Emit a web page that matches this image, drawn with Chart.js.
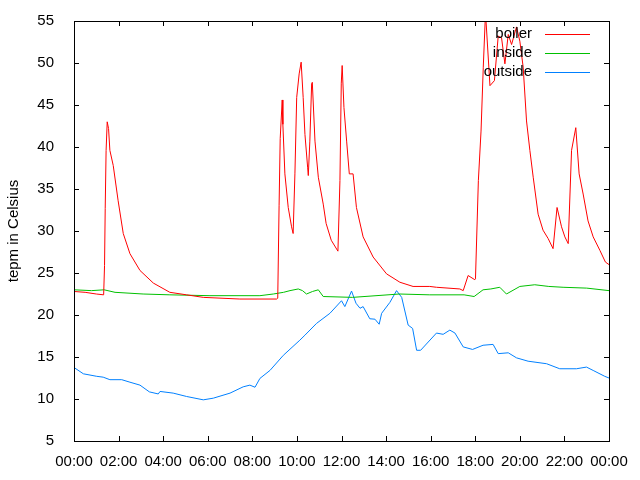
<!DOCTYPE html>
<html>
<head>
<meta charset="utf-8">
<script src="https://cdn.jsdelivr.net/npm/chart.js@4/dist/chart.umd.min.js"></script>
<style>
  html, body { margin: 0; padding: 0; background: #fff; }
  #wrap { width: 640px; height: 480px; }
</style>
</head>
<body>
<div id="wrap"><canvas id="chart" width="640" height="480"></canvas></div>
<script>
// Temperatures over one day (hours, deg C)
const boilerHours = [0, 0.5, 1.0, 1.33, 1.37, 1.40, 1.44, 1.49, 1.55, 1.61, 1.76, 1.98, 2.21, 2.51, 2.96, 3.56, 4.3, 5.05, 5.8, 7.44, 9.09,
  9.14, 9.2, 9.25, 9.34, 9.37, 9.46, 9.61, 9.76, 9.83, 9.91, 9.99, 10.10, 10.19, 10.28, 10.36, 10.48, 10.51, 10.58, 10.66, 10.69,
  10.81, 10.96, 11.18, 11.31, 11.54, 11.84, 11.93, 11.99, 12.03, 12.11, 12.23, 12.35, 12.52, 12.67, 12.97, 13.42, 14.02, 14.62,
  15.21, 15.96, 16.26, 17.31, 17.46, 17.68, 17.98, 18.01, 18.14, 18.26, 18.36, 18.46, 18.66, 18.86, 19.03, 19.18, 19.33, 19.48,
  19.63, 19.85, 20.0, 20.15, 20.3, 20.45, 20.6, 20.82, 21.04, 21.27, 21.49, 21.67, 21.87, 22.02, 22.17, 22.32, 22.51, 22.66,
  22.84, 23.06, 23.29, 23.59, 23.84, 24.0];
const boilerTemps = [22.8, 22.7, 22.5, 22.4, 25.9, 32.7, 39.6, 43.0, 42.2, 39.6, 37.8, 33.6, 29.7, 27.3, 25.3, 23.8, 22.7, 22.4, 22.1, 21.9, 21.9,
  22.0, 33.0, 41.0, 45.6, 42.7, 36.8, 32.8, 30.5, 29.7, 36.8, 45.9, 48.7, 50.1, 45.9, 41.5, 37.6, 36.6, 40.7, 47.5, 47.7,
  40.7, 36.4, 33.2, 30.9, 28.9, 27.6, 36.0, 47.6, 49.7, 44.7, 40.7, 36.8, 36.8, 32.8, 29.3, 26.9, 24.9, 23.9,
  23.4, 23.4, 23.3, 23.1, 22.9, 24.7, 24.2, 24.3, 36.0, 41.9, 49.5, 56.0, 47.3, 47.9, 53.2, 53.0, 49.9, 53.4,
  52.2, 54.3, 52.6, 49.5, 43.1, 39.6, 36.4, 32.0, 30.1, 29.1, 27.9, 32.8, 30.5, 29.3, 28.5, 39.6, 42.3, 36.8,
  34.4, 31.2, 29.3, 27.7, 26.3, 26.0];

const insideHours = [0, 0.79, 1.35, 1.84, 3.1, 4.3, 6.1, 8.34, 8.94, 9.4, 9.69, 10.06, 10.25, 10.43, 10.7, 10.96, 11.18, 12.5,
  14.6, 15.96, 17.5, 17.95, 18.35, 18.7, 19.1, 19.4, 20.0, 20.67, 21.3, 21.94, 23.0, 24.0];
const insideTemps = [23.0, 22.9, 23.0, 22.7, 22.5, 22.4, 22.3, 22.3, 22.5, 22.7, 22.9, 23.1, 22.9, 22.5, 22.8, 23.0, 22.2, 22.1,
  22.5, 22.4, 22.4, 22.2, 23.0, 23.1, 23.3, 22.5, 23.4, 23.6, 23.4, 23.3, 23.2, 22.9];

const outsideHours = [0, 0.42, 1.02, 1.31, 1.61, 2.14, 2.51, 2.96, 3.38, 3.78, 3.86, 4.45, 5.05, 5.8, 6.25, 7.0, 7.59, 7.89, 8.12,
  8.34, 8.79, 9.39, 10.13, 10.36, 10.88, 11.48, 12.0, 12.15, 12.45, 12.65, 12.83, 12.97, 13.27, 13.5, 13.69, 13.8, 14.17, 14.47,
  14.7, 14.99, 15.19, 15.37, 15.55, 16.26, 16.56, 16.86, 17.09, 17.46, 17.88, 18.35, 18.8, 19.03, 19.48, 19.85, 20.37, 21.2,
  21.79, 22.54, 22.99, 23.29, 23.81, 24.0];
const outsideTemps = [13.75, 13.0, 12.7, 12.6, 12.3, 12.3, 12.0, 11.65, 10.85, 10.6, 10.9, 10.7, 10.3, 9.9, 10.1, 10.7, 11.45, 11.65, 11.4,
  12.45, 13.4, 15.2, 17.0, 17.6, 19.0, 20.2, 21.7, 21.0, 22.85, 21.4, 20.8, 21.0, 19.55, 19.5, 18.9, 20.2, 21.5, 22.9,
  22.1, 18.8, 18.4, 15.8, 15.8, 17.85, 17.7, 18.2, 17.85, 16.2, 15.9, 16.4, 16.5, 15.4, 15.5, 14.9, 14.5, 14.2,
  13.6, 13.6, 13.8, 13.4, 12.7, 12.5];

const seriesNames = ['boiler', 'inside', 'outside'];
const seriesColors = ['#ff0000', '#00c000', '#0080ff'];

const FONT = 'Liberation Sans, Arial, sans-serif';

function toPoints(xs, ys) {
  return xs.map((x, i) => ({ x: x, y: ys[i] }));
}

// gnuplot style: box around plot, inward ticks on all four sides, legend at top right
const gnuplotFrame = {
  id: 'gnuplotFrame',
  afterDraw(chart) {
    const { ctx, chartArea: a, scales } = chart;
    ctx.save();
    ctx.strokeStyle = '#000';
    ctx.lineWidth = 1;
    ctx.strokeRect(Math.round(a.left) + 0.5, Math.round(a.top) + 0.5,
      Math.round(a.right - a.left), Math.round(a.bottom - a.top));
    const len = 5;
    ctx.beginPath();
    scales.x.ticks.forEach(t => {
      const px = Math.round(scales.x.getPixelForValue(t.value)) + 0.5;
      ctx.moveTo(px, a.bottom); ctx.lineTo(px, a.bottom - len);
      ctx.moveTo(px, a.top); ctx.lineTo(px, a.top + len);
    });
    scales.y.ticks.forEach(t => {
      const py = Math.round(scales.y.getPixelForValue(t.value)) + 0.5;
      ctx.moveTo(a.left, py); ctx.lineTo(a.left + len, py);
      ctx.moveTo(a.right, py); ctx.lineTo(a.right - len, py);
    });
    ctx.stroke();

    // legend
    ctx.font = '15px ' + FONT;
    ctx.textAlign = 'right';
    ctx.textBaseline = 'middle';
    chart.data.datasets.forEach((ds, i) => {
      const y = a.top + 13 + i * 19;
      ctx.fillStyle = '#000';
      ctx.fillText(ds.label, a.right - 77, y);
      ctx.strokeStyle = ds.borderColor;
      ctx.beginPath();
      ctx.moveTo(a.right - 64, Math.round(y) + 0.5);
      ctx.lineTo(a.right - 19, Math.round(y) + 0.5);
      ctx.stroke();
    });
    ctx.restore();
  }
};

new Chart(document.getElementById('chart'), {
  type: 'line',
  data: {
    datasets: [
      { label: seriesNames[0], data: toPoints(boilerHours, boilerTemps) },
      { label: seriesNames[1], data: toPoints(insideHours, insideTemps) },
      { label: seriesNames[2], data: toPoints(outsideHours, outsideTemps) }
    ].map((ds, i) => Object.assign(ds, {
      borderColor: seriesColors[i],
      backgroundColor: seriesColors[i],
      borderWidth: 1,
      pointRadius: 0,
      tension: 0,
      fill: false
    }))
  },
  options: {
    responsive: false,
    animation: false,
    layout: { padding: { top: 20, right: 31, left: 0, bottom: 0 } },
    plugins: {
      legend: { display: false },
      tooltip: { enabled: false }
    },
    scales: {
      x: {
        type: 'linear',
        min: 0,
        max: 24,
        grid: { display: false },
        border: { display: false },
        afterFit(scale) { scale.height = 39; },
        ticks: {
          stepSize: 2,
          maxRotation: 0,
          autoSkip: false,
          padding: 4,
          color: '#000',
          font: { family: FONT, size: 15 },
          callback: v => String(v % 24).padStart(2, '0') + ':00'
        }
      },
      y: {
        min: 5,
        max: 55,
        grid: { display: false },
        border: { display: false },
        afterFit(scale) { scale.width = 74; },
        title: {
          display: true,
          text: 'tepm in Celsius',
          color: '#000',
          font: { family: FONT, size: 15 },
          padding: { top: 5, bottom: 0 }
        },
        ticks: {
          stepSize: 5,
          padding: 12,
          color: '#000',
          font: { family: FONT, size: 15 }
        }
      }
    }
  },
  plugins: [gnuplotFrame]
});
</script>
</body>
</html>
